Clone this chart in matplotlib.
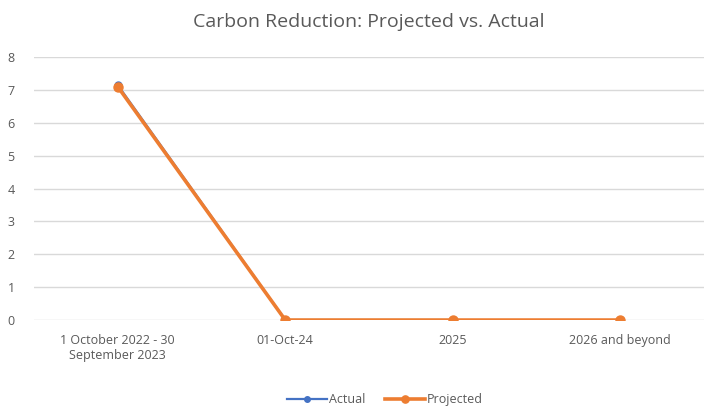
import numpy as np
import matplotlib.pyplot as plt

categorias = ['1 October 2022 - 30\nSeptember 2023', '01-Oct-24', '2025', '2026 and beyond']
actual = [7.15, 0.0, 0.0, np.nan]
projetado = [7.1, 0.0, 0.0, 0.0]

plt.rcParams['font.family'] = ['Open Sans', 'DejaVu Sans']
cinza = '#595959'

fig = plt.figure(figsize=(7.17, 4.2), dpi=100)
ax = fig.add_axes([0.0474, 0.238, 0.9346, 0.626])

x = np.arange(len(categorias))
ax.plot(x, actual, color='#4472c4', lw=1.6, marker='o', ms=5, label='Actual', zorder=3)
ax.plot(x, projetado, color='#ed7d31', lw=2.6, marker='o', ms=6.5, label='Projected', zorder=4)

ax.set_xlim(-0.5, 3.5)
ax.set_ylim(0, 8)
ax.set_yticks(range(9))
ax.set_xticks(x)
ax.set_xticklabels(categorias)
ax.grid(axis='y', color='#d9d9d9', lw=1)
ax.set_axisbelow(True)
for s in ax.spines.values():
    s.set_visible(False)
ax.tick_params(length=0, colors=cinza, labelsize=9)
ax.tick_params(axis='x', pad=10)
ax.tick_params(axis='y', pad=14)

ax.set_title('Carbon Reduction: Projected vs. Actual', color=cinza, fontsize=14, pad=22)
fig.legend(loc='center', bbox_to_anchor=(0.537, 0.048), ncol=2, frameon=False,
           fontsize=9, labelcolor=cinza, handlelength=3.2, columnspacing=1.5,
           handletextpad=0.2, markerscale=0.8)

fig.savefig('out.png', dpi=100)
